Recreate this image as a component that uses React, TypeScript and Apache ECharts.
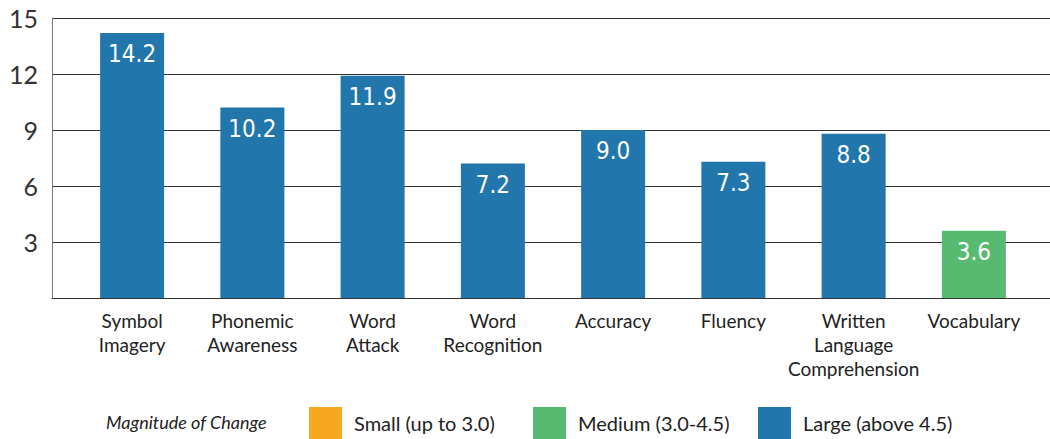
import React, { useEffect, useRef } from "react";
import * as echarts from "echarts";

const categories = [
  "Symbol\nImagery",
  "Phonemic\nAwareness",
  "Word\nAttack",
  "Word\nRecognition",
  "Accuracy",
  "Fluency",
  "Written\nLanguage\nComprehension",
  "Vocabulary",
];
const values = [14.2, 10.2, 11.9, 7.2, 9.0, 7.3, 8.8, 3.6];
const legendNames = ["Small (up to 3.0)", "Medium (3.0-4.5)", "Large (above 4.5)"];
const legendColors = ["#F6A81F", "#56BB71", "#2176AC"];
const yTicks = [0, 3, 6, 9, 12, 15];

function colorFor(v: number) {
  if (v <= 3.0) return legendColors[0];
  if (v <= 4.5) return legendColors[1];
  return legendColors[2];
}

const FONT = "Lato, 'Open Sans', 'DejaVu Sans', sans-serif";
const NARROW = "'Liberation Sans Narrow', 'DejaVu Sans Condensed', 'Roboto Condensed', sans-serif";

export default function App() {
  const ref = useRef<HTMLDivElement>(null);
  useEffect(() => {
    if (!ref.current) return;
    const chart = echarts.init(ref.current, undefined, { renderer: "svg" });
    const legendLefts = [309, 533, 758];
    chart.setOption({
      animation: false,
      backgroundColor: "#ffffff",
      title: {
        text: "Magnitude of Change",
        left: 106,
        top: 413,
        textStyle: { fontFamily: FONT, fontStyle: "italic", fontWeight: "normal", fontSize: 18, color: "#222" },
        padding: 0,
      },
      legend: legendNames.map((n, i) => ({
        data: [n],
        left: legendLefts[i],
        top: 407,
        padding: 0,
        itemWidth: 33,
        itemHeight: 32,
        icon: "rect",
        selectedMode: false,
        textStyle: { fontFamily: FONT, fontSize: 20, color: "#222", padding: [0, 0, 0, 7] },
      })),
      grid: [
        { left: 52, right: 0, top: 18, bottom: 141 },
        { left: 72, right: 16, top: 18, bottom: 141 },
      ],
      xAxis: [
        {
          gridIndex: 0,
          type: "category",
          data: categories,
          axisLine: { show: true, lineStyle: { color: "#333", width: 1 } },
          axisTick: { show: false },
          axisLabel: { show: false },
        },
        {
          gridIndex: 1,
          type: "category",
          data: categories,
          axisLine: { show: false },
          axisTick: { show: false },
          axisLabel: {
            interval: 0,
            margin: 10,
            fontFamily: FONT,
            fontSize: 19,
            lineHeight: 24,
            color: "#222",
          },
        },
      ],
      yAxis: [
        {
          gridIndex: 0,
          type: "value",
          min: 0,
          max: 15,
          interval: 3,
          axisLine: { show: true, lineStyle: { color: "#777", width: 1 } },
          axisTick: { show: false },
          splitLine: { show: true, lineStyle: { color: "#333", width: 1 } },
          axisLabel: {
            margin: 14,
            fontFamily: FONT,
            fontSize: 25,
            color: "#333",
            formatter: (v: number) => (v === 0 ? "" : yTicks.includes(v) ? String(v) : ""),
          },
        },
        {
          gridIndex: 1,
          type: "value",
          min: 0,
          max: 15,
          interval: 3,
          show: false,
          splitLine: { show: false },
        },
      ],
      series: [
        {
          type: "bar",
          xAxisIndex: 1,
          yAxisIndex: 1,
          barWidth: 64,
          data: values.map((v) => ({ value: v, itemStyle: { color: colorFor(v) } })),
          label: {
            show: true,
            position: "insideTop",
            distance: 9,
            fontFamily: NARROW,
            fontSize: 24,
            color: "#ffffff",
            formatter: (p: any) => Number(p.value).toFixed(1),
          },
        },
        ...legendNames.map((n, i) => ({
          name: n,
          type: "bar",
          xAxisIndex: 0,
          yAxisIndex: 0,
          data: [],
          itemStyle: { color: legendColors[i] },
        })),
      ],
    });
    return () => chart.dispose();
  }, []);
  return <div ref={ref} style={{ position: "absolute", left: 0, top: 0, width: 1050, height: 439 }} />;
}
